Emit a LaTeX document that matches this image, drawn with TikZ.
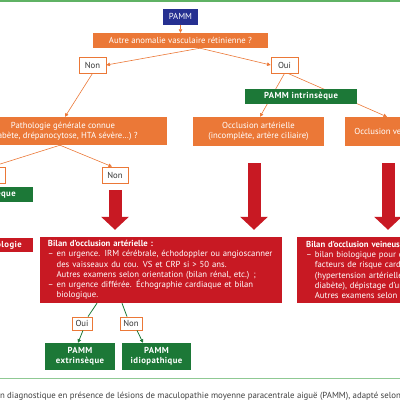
\documentclass[tikz,border=0pt]{standalone}
\usepackage{fontspec}
\setmainfont{PT Sans}
\usetikzlibrary{arrows.meta}

\definecolor{pammblue}{RGB}{38,48,145}
\definecolor{pammorange}{RGB}{235,120,55}
\definecolor{pammgreen}{RGB}{28,120,55}
\definecolor{pammred}{RGB}{200,25,35}
\definecolor{rulegreen}{RGB}{95,178,100}

\newcommand{\dashgap}{\phantom{– }}

\tikzset{
    base/.style={inner sep=0pt, text=white, font=\fontsize{8.7}{10.3}\selectfont},
    bluebox/.style={base, fill=pammblue, minimum width=35pt, minimum height=16pt},
    orangebox/.style={base, fill=pammorange, align=center},
    answer/.style={base, fill=white, draw=pammorange, line width=0.8pt, text=black!80,
        minimum width=27pt, minimum height=16pt},
    smallanswer/.style={answer, minimum width=20pt, minimum height=13pt},
    greenbox/.style={base, fill=pammgreen, align=center,
        font=\fontsize{8.7}{10.3}\selectfont\bfseries\addfontfeatures{LetterSpace=5}},
    redbox/.style={base, fill=pammred, align=left, inner xsep=8pt, minimum height=66pt},
    link/.style={pammorange, line width=0.6pt, -{Triangle[length=3.5pt,width=3.5pt]}},
    greenlink/.style={pammgreen, line width=0.8pt},
    bigarrow/.style={pammred, line width=13pt, -{Triangle[length=13pt,width=27pt]}}
}

\begin{document}
\begin{tikzpicture}[x=1pt,y=-1pt]
    \useasboundingbox (0,0) rectangle (400,400);
    \clip (0,0) rectangle (400,400);

    % Rules
    \draw[rulegreen, line width=2pt] (0,1) -- (400,1);
    \draw[rulegreen!70, line width=1pt] (0,378) -- (400,378);

    % Boxes (top to bottom)
    \node[bluebox] (pamm) at (180.5,16.5) {PAMM};
    \node[orangebox, minimum width=175pt, minimum height=15pt] (autre) at (180.5,40.5)
        {Autre anomalie vasculaire rétinienne ?};
    \node[answer] (non1) at (92.5,65) {Non};
    \node[answer] (oui1) at (284.5,65) {Oui};
    \node[orangebox, minimum width=208pt, minimum height=28pt] (patho) at (63,131)
        {Pathologie générale connue\\(diabète, drépanocytose, HTA sévère\dots) ?};
    \node[orangebox, minimum width=131pt, minimum height=29pt] (occart) at (258.5,131.5)
        {Occlusion artérielle\\(incomplète, artère ciliaire)};
    \node[orangebox, minimum width=90pt, minimum height=29pt] (occvein) at (390,131.5)
        {Occlusion veineuse};
    \node[answer] (oui2) at (-8,175) {Oui};
    \node[answer, minimum width=26pt] (non2) at (115,175) {Non};
    \node[greenbox, minimum width=110pt, minimum height=15pt] (extr1) at (-22,194.5)
        {PAMM extrinsèque};
    \node[greenbox, fill=pammred, minimum width=112pt, minimum height=14pt] (bilanpatho) at (-23,245)
        {Bilan de la pathologie};
    \node[redbox, text width=226pt] (bilanart) at (161,270)
        {\textbf{Bilan d'occlusion artérielle :}\\
         – en urgence. IRM cérébrale, échodoppler ou angioscanner\\
         \dashgap des vaisseaux du cou. VS et CRP si > 50 ans.\\
         \dashgap Autres examens selon orientation (bilan rénal, etc.) ;\\
         – en urgence différée. Échographie cardiaque et bilan\\
         \dashgap biologique.};
    \node[redbox, anchor=west, inner xsep=9pt, text width=200pt] (bilanvein) at (297,270)
        {\textbf{Bilan d'occlusion veineuse :}\\
         – bilan biologique pour dépister les\\
         \dashgap facteurs de risque cardiovasculaire\\
         \dashgap (hypertension artérielle, dyslipidémie,\\
         \dashgap diabète), dépistage d'une thrombophilie.\\
         \dashgap Autres examens selon orientation.};
    \node[smallanswer] (oui3) at (82,323.5) {Oui};
    \node[smallanswer, minimum width=22pt] (non3) at (131,323.5) {Non};
    \node[greenbox, minimum width=70pt, minimum height=27pt] (extr2) at (80,356.5)
        {PAMM\\extrinsèque};
    \node[greenbox, minimum width=69pt, minimum height=27pt] (idio) at (156.5,356.5)
        {PAMM\\idiopathique};

    % Edges
    \draw[link] (pamm) -- (autre);
    \draw[link] ([xshift=19.5pt]autre.south) -- (non1.east);
    \draw[link] ([xshift=19.5pt]autre.south) -- (oui1.west);
    \draw[link] (non1.south) -- ([xshift=2pt]patho.north);
    \draw[link] (oui1.south) -- ([xshift=1.5pt]occart.north);
    \draw[link] ([xshift=3.5pt]oui1.south) -- ([xshift=-3pt]occvein.north);
    \draw[link] ([xshift=-3pt]patho.south) -- (oui2.north);
    \draw[link] ([xshift=-3pt]patho.south) -- ([xshift=-3pt]non2.north);

    \draw[bigarrow] ([yshift=-7pt]non2.south) -- ([yshift=7pt]non2.south |- bilanart.north);
    \draw[bigarrow] ([xshift=-4.5pt,yshift=-17pt]occart.south)
        -- ([xshift=-4.5pt,yshift=7pt]occart.south |- bilanart.north);
    \draw[bigarrow] ([xshift=-2pt,yshift=-17pt]occvein.south)
        -- ([xshift=-2pt,yshift=7pt]occvein.south |- bilanvein.north);

    \draw[greenlink] ([xshift=-64pt]bilanart.south) -- ([xshift=6pt]oui3.north);
    \draw[greenlink] ([xshift=-39pt]bilanart.south) -- ([xshift=-4pt]non3.north);
    \draw[greenlink, -{Triangle[length=3.5pt,width=3.5pt]}] ([xshift=1pt]oui3.south) -- ([xshift=-2pt]extr2.north);
    \draw[greenlink, -{Triangle[length=3.5pt,width=3.5pt]}] ([xshift=6pt]non3.south) -- ([xshift=-13.5pt]idio.north);

    % Box laid over the lines from Oui
    \node[greenbox, minimum width=112pt, minimum height=15pt] (intr) at (301,96) {PAMM intrinsèque};

    % Caption
    \node[base, anchor=base west, text=black!75, font=\fontsize{8.8}{10.3}\selectfont] (caption) at (7,398)
        {\llap{Orientation }diagnostique en présence de lésions de maculopathie moyenne paracentrale aiguë (PAMM), adapté selon};
\end{tikzpicture}
\end{document}
